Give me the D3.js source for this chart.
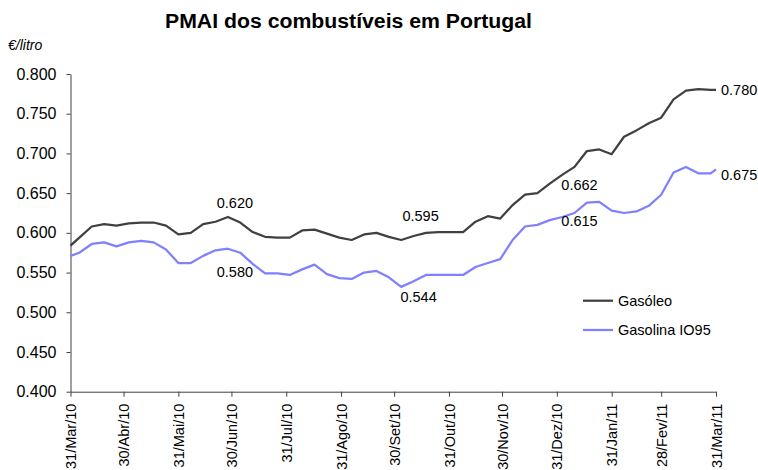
<!DOCTYPE html>
<html>
<head>
<meta charset="utf-8">
<script src="https://cdn.jsdelivr.net/npm/d3@7"></script>
<style>
  body { margin: 0; background: #fff; }
  svg { font-family: Arial, "Liberation Sans", sans-serif; }
</style>
</head>
<body>
<div id="chart"></div>
<script>
// weekly PMAI, €/litro
const dates = [
  "2010-03-31", "2010-04-05", "2010-04-12", "2010-04-19", "2010-04-26", "2010-05-03", "2010-05-10",
  "2010-05-17", "2010-05-24", "2010-05-31", "2010-06-07", "2010-06-14", "2010-06-21", "2010-06-28",
  "2010-07-05", "2010-07-12", "2010-07-19", "2010-07-26", "2010-08-02", "2010-08-09", "2010-08-16",
  "2010-08-23", "2010-08-30", "2010-09-06", "2010-09-13", "2010-09-20", "2010-09-27", "2010-10-04",
  "2010-10-11", "2010-10-18", "2010-10-25", "2010-11-01", "2010-11-08", "2010-11-15", "2010-11-22",
  "2010-11-29", "2010-12-06", "2010-12-13", "2010-12-20", "2010-12-27", "2011-01-03", "2011-01-10",
  "2011-01-17", "2011-01-24", "2011-01-31", "2011-02-07", "2011-02-14", "2011-02-21", "2011-02-28",
  "2011-03-07", "2011-03-14", "2011-03-21", "2011-03-28", "2011-03-31"
];

const gasoleo = [
  0.584, 0.594, 0.608, 0.611, 0.609, 0.612, 0.613, 0.613, 0.609, 0.598, 0.600, 0.611, 0.614, 0.620,
  0.613, 0.601, 0.595, 0.594, 0.594, 0.603, 0.604, 0.599, 0.594, 0.591, 0.598, 0.600, 0.595, 0.591,
  0.596, 0.600, 0.601, 0.601, 0.601, 0.614, 0.621, 0.618, 0.635, 0.648, 0.650, 0.662, 0.673, 0.683,
  0.703, 0.705, 0.699, 0.721, 0.729, 0.738, 0.745, 0.768, 0.779, 0.781, 0.780, 0.780
];

const gasolina = [
  0.571, 0.575, 0.586, 0.588, 0.583, 0.588, 0.590, 0.588, 0.579, 0.562, 0.562, 0.571, 0.578, 0.580,
  0.575, 0.561, 0.549, 0.549, 0.547, 0.554, 0.560, 0.548, 0.543, 0.542, 0.550, 0.552, 0.544, 0.532,
  0.539, 0.547, 0.547, 0.547, 0.547, 0.557, 0.562, 0.567, 0.591, 0.608, 0.610, 0.616, 0.620, 0.625,
  0.638, 0.639, 0.628, 0.625, 0.627, 0.634, 0.648, 0.676, 0.683, 0.675, 0.675, 0.680
];

const yTicks = [0.400, 0.450, 0.500, 0.550, 0.600, 0.650, 0.700, 0.750, 0.800];

const xTickDates = [
  "2010-03-31", "2010-04-30", "2010-05-31", "2010-06-30", "2010-07-31", "2010-08-31", "2010-09-30",
  "2010-10-31", "2010-11-30", "2010-12-31", "2011-01-31", "2011-02-28", "2011-03-31"
];
const xTickLabels = [
  "31/Mar/10", "30/Abr/10", "31/Mai/10", "30/Jun/10", "31/Jul/10", "31/Ago/10", "30/Set/10",
  "31/Out/10", "30/Nov/10", "31/Dez/10", "31/Jan/11", "28/Fev/11", "31/Mar/11"
];

const seriesNames = ["Gasóleo", "Gasolina IO95"];

// value labels written on the chart
const labelTexts = ["0.620", "0.580", "0.595", "0.544", "0.662", "0.615", "0.780", "0.675"];
const labelSeries = [0, 1, 0, 1, 0, 1, 0, 1];
const labelDates = ["2010-06-28", "2010-06-28", "2010-10-11", "2010-10-11", "2011-01-10", "2011-01-10", "2011-03-31", "2011-03-31"];

const width = 758, height = 470;
const margin = { top: 74, right: 42, bottom: 78.3, left: 70.5 };
const colors = ["#404040", "#8080ff"];

const parse = d3.timeParse("%Y-%m-%d");
const series = [gasoleo, gasolina].map(vals => vals.map((v, i) => ({ date: parse(dates[i]), value: v })));

const svg = d3.select("#chart").append("svg")
  .attr("width", width)
  .attr("height", height);

const x = d3.scaleTime()
  .domain([parse(xTickDates[0]), parse(xTickDates[xTickDates.length - 1])])
  .range([margin.left, width - margin.right]);

const y = d3.scaleLinear()
  .domain([0.4, 0.8])
  .range([height - margin.bottom, margin.top]);

// title
svg.append("text")
  .attr("x", 348.5)
  .attr("y", 28)
  .attr("text-anchor", "middle")
  .attr("font-size", 20)
  .attr("font-weight", "bold")
  .attr("textLength", 367)
  .attr("lengthAdjust", "spacingAndGlyphs")
  .text("PMAI dos combustíveis em Portugal");

svg.append("text")
  .attr("x", 8)
  .attr("y", 50)
  .attr("font-size", 14)
  .attr("font-style", "italic")
  .text("€/litro");

// y axis
const yAxis = svg.append("g")
  .attr("transform", `translate(${margin.left},0)`)
  .call(d3.axisLeft(y).tickValues(yTicks).tickFormat(d3.format(".3f")).tickSize(4).tickSizeOuter(0).tickPadding(10));
yAxis.selectAll("text").attr("font-size", 16).attr("fill", "#000");

// x axis
const xAxis = svg.append("g")
  .attr("transform", `translate(0,${height - margin.bottom})`)
  .call(d3.axisBottom(x)
    .tickValues(xTickDates.map(parse))
    .tickFormat((d, i) => xTickLabels[i])
    .tickSize(5).tickSizeOuter(0));
xAxis.selectAll("text")
  .attr("font-size", 14.5)
  .attr("fill", "#000")
  .attr("text-anchor", "end")
  .attr("transform", "rotate(-90)")
  .attr("x", -12)
  .attr("y", 0)
  .attr("dy", "0.35em");

svg.selectAll(".domain, .tick line").attr("stroke", "#404040").attr("stroke-width", 1);

// lines
const line = d3.line()
  .x(d => x(d.date))
  .y(d => y(d.value));

svg.selectAll(".series")
  .data(series)
  .join("path")
  .attr("class", "series")
  .attr("fill", "none")
  .attr("stroke", (d, i) => colors[i])
  .attr("stroke-width", 2.25)
  .attr("stroke-linejoin", "round")
  .attr("d", line);

// labels
const labelOffsets = [[7, -14], [7, 23], [7, -20], [5, 16], [5, 18], [5, 8], [5, 0], [5, 6]];
labelTexts.forEach((t, i) => {
  const s = series[labelSeries[i]];
  const p = s.find(d => +d.date === +parse(labelDates[i]));
  const last = i >= 6;
  svg.append("text")
    .attr("x", x(p.date) + labelOffsets[i][0])
    .attr("y", y(p.value) + labelOffsets[i][1])
    .attr("dy", "0.35em")
    .attr("text-anchor", last ? "start" : "middle")
    .attr("font-size", 14.5)
    .text(t);
});

// legend
const legend = svg.append("g");
seriesNames.forEach((name, i) => {
  const ly = 300.7 + i * 29.3;
  legend.append("line")
    .attr("x1", 583).attr("x2", 613)
    .attr("y1", ly).attr("y2", ly)
    .attr("stroke", colors[i])
    .attr("stroke-width", 2.25);
  legend.append("text")
    .attr("x", 618)
    .attr("y", ly)
    .attr("dy", "0.35em")
    .attr("font-size", 14.5)
    .text(name);
});
</script>
</body>
</html>
